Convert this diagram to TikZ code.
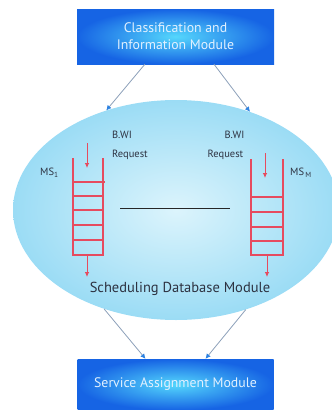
\documentclass[tikz,border=0pt]{standalone}
\usepackage{fontspec}
\setmainfont{PT Sans}
\usetikzlibrary{arrows.meta,shapes.geometric,calc}

\definecolor{boxouter}{RGB}{22,100,228}
\definecolor{boxinner}{RGB}{85,215,252}
\definecolor{boxtext}{RGB}{225,240,255}
\definecolor{ellouter}{RGB}{155,220,245}
\definecolor{ellinner}{RGB}{220,244,252}
\definecolor{connline}{RGB}{140,160,185}
\definecolor{conntip}{RGB}{45,130,225}
\definecolor{queuered}{RGB}{230,75,95}
\definecolor{labeltext}{RGB}{45,50,65}

\tikzset{
  modbox/.style={rectangle, shading=radial, inner color=boxinner, outer color=boxouter,
    text=boxtext, align=center, font=\fontsize{13.8}{17}\selectfont, inner sep=0pt},
  dbell/.style={ellipse, shading=radial, inner color=ellinner, outer color=ellouter,
    minimum width=326pt, minimum height=220pt, inner sep=0pt},
  conn/.style={draw=connline, line width=0.8pt, -{Latex[length=5pt,width=5pt,color=conntip]}},
  qline/.style={draw=queuered, line width=1.1pt},
  qarrow/.style={draw=queuered, line width=0.8pt, -{Latex[length=5pt,width=4.5pt]}},
  lbl/.style={text=labeltext, inner sep=0pt, font=\fontsize{10.5}{12}\selectfont},
}

\begin{document}
\begin{tikzpicture}[x=1pt,y=-1pt]
  \useasboundingbox (0,0) rectangle (332,410);

  % database ellipse
  \node[dbell] (sdb) at (176,210) {};

  % module boxes
  \node[modbox, minimum width=197pt, minimum height=55pt] (cim) at (175.5,36.5)
    {Classification and\\Information Module};
  \node[modbox, minimum width=196pt, minimum height=51pt] (sam) at (175.5,384.5)
    {Service Assignment Module};

  % connectors between modules
  \draw[conn] ($(cim.south)!0.31!(cim.south west)$) -- (sdb.125);
  \draw[conn] ($(cim.south)!0.39!(cim.south east)$) -- (sdb.53);
  \draw[conn] (sdb.234) -- ($(sam.north)+(-30,0)$);
  \draw[conn] (sdb.305) -- ($(sam.north)+(30,0)$);

  % left queue (MS_1)
  \coordinate (lq) at (73,158);
  \draw[qline] (lq) -- ++(0,97) -- ++(30,0) -- ++(0,-97);
  \draw[qline] ($(lq)+(0,24)$) -- ++(32,0);
  \foreach \yy in {38,52,67,82}
    \draw[qline] ($(lq)+(0,\yy)$) -- ++(30,0);
  \coordinate (lin) at (87,143);
  \draw[qarrow] (lin) -- ++(0,25);
  \draw[qarrow] ($(lq)+(14,97)$) -- ++(0,22);

  % right queue (MS_M)
  \coordinate (rq) at (251,159);
  \draw[qline] (rq) -- ++(0,96) -- ++(32,0) -- ++(0,-96);
  \foreach \yy in {38,53,68,82}
    \draw[qline] ($(rq)+(0,\yy)$) -- ++(32,0);
  \coordinate (rin) at (265,153);
  \draw[qarrow] (rin) -- ++(0,25);
  \draw[qarrow] ($(rq)+(16,96)$) -- ++(0,22);

  % separator between the queues
  \coordinate (sepl) at (120,208);
  \coordinate (sepr) at (230,208);
  \draw[line width=0.9pt, black!85] (sepl) -- (sepr);

  % labels
  \node[lbl] (bwl) at (122,135) {B.WI};
  \node[lbl, anchor=west] (rql) at (112,155) {Request};
  \node[lbl] (bwr) at (234.5,135) {B.WI};
  \node[lbl] (rqr) at (225.5,155) {Request};
  \node[lbl, anchor=west] (ms1) at (40,173) {MS\textsubscript{1}};
  \node[lbl, anchor=west] (msm) at (290,173) {MS\textsubscript{\,M}};
  \node[text=labeltext, inner sep=0pt, font=\fontsize{14.5}{16}\selectfont] (sdbl) at (180,289)
    {Scheduling Database Module};
\end{tikzpicture}
\end{document}
